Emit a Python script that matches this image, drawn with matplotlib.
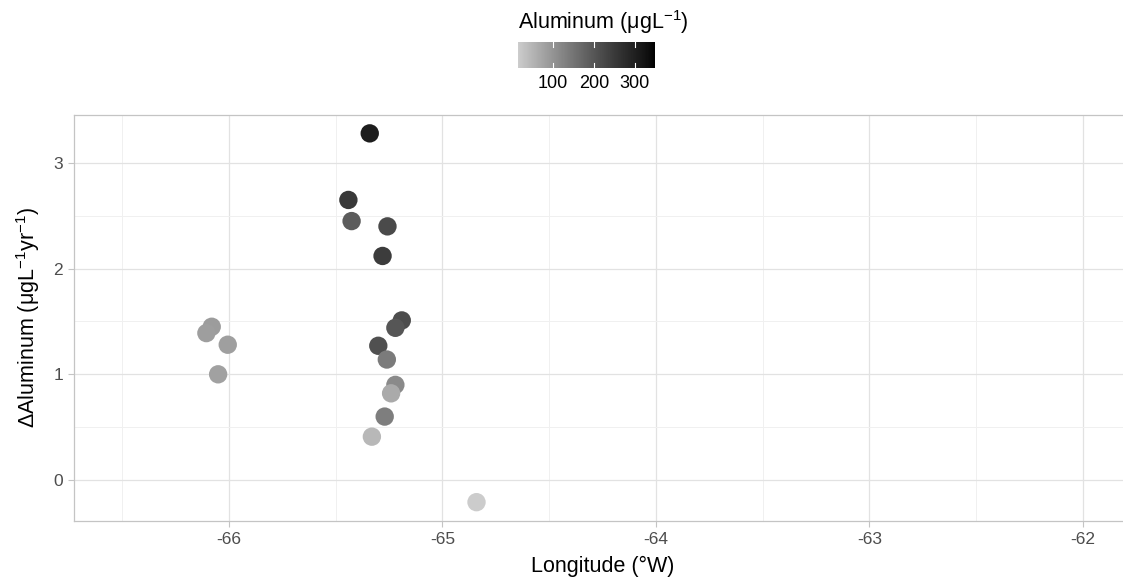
import matplotlib
matplotlib.use("Agg")
import matplotlib.pyplot as plt
import numpy as np
from matplotlib.colors import LinearSegmentedColormap, Normalize

plt.rcParams['font.family'] = ['Liberation Sans', 'DejaVu Sans']
plt.rcParams['mathtext.fontset'] = 'custom'
plt.rcParams['mathtext.rm'] = 'Liberation Sans'
plt.rcParams['mathtext.it'] = 'Liberation Sans:italic'

# sites: longitude, trend and mean concentration
longitude = [-65.34, -65.44, -65.425, -65.257, -65.28, -65.19, -65.22, -65.30,
             -65.26, -65.22, -65.24, -65.27, -65.33, -64.84,
             -66.08, -66.105, -66.005, -66.05]
delta_al = [3.28, 2.65, 2.45, 2.40, 2.12, 1.51, 1.44, 1.27,
            1.14, 0.90, 0.82, 0.60, 0.41, -0.21,
            1.45, 1.39, 1.28, 1.00]
aluminum = [305, 250, 190, 220, 245, 215, 200, 210,
            140, 115, 65, 135, 45, 15,
            88, 85, 82, 80]
al_min, al_max = 15, 349


def grey_lab_ramp(l_start, l_end, n=256):
    # grey ramp interpolated linearly in CIE L*, converted to sRGB
    L = np.linspace(l_start, l_end, n)
    fy = (L + 16) / 116
    Y = np.where(L > 8, fy ** 3, L / 903.3)
    srgb = np.where(Y <= 0.0031308, 12.92 * Y, 1.055 * Y ** (1 / 2.4) - 0.055)
    srgb = np.clip(srgb, 0, 1)
    return [(v, v, v) for v in srgb]


cmap = LinearSegmentedColormap.from_list('greys', grey_lab_ramp(82, 0))
norm = Normalize(vmin=al_min, vmax=al_max)

fig = plt.figure(figsize=(11.23, 5.79), dpi=100)
ax = fig.add_axes([0.0659, 0.1002, 0.9412, 0.7012])

ax.set_xlim(-66.725, -61.775)
ax.set_ylim(-0.388, 3.454)

# light theme grid
ax.set_xticks([-66, -65, -64, -63, -62])
ax.set_yticks([0, 1, 2, 3])
ax.set_xticks(np.arange(-66.5, -61.9, 1.0), minor=True)
ax.set_yticks([0.5, 1.5, 2.5], minor=True)
ax.grid(which='major', color='#e2e2e2', linewidth=0.9)
ax.grid(which='minor', color='#f0f0f0', linewidth=0.7)
ax.set_axisbelow(True)
for sp in ax.spines.values():
    sp.set_color('#c4c4c4')
    sp.set_linewidth(0.9)
ax.tick_params(which='major', length=4, color='#c4c4c4', labelcolor='#4d4d4d',
               labelsize=12.5, pad=4)
ax.tick_params(which='minor', length=0)
ax.set_xticklabels(['-66', '-65', '-64', '-63', '-62'])
ax.set_yticklabels(['0', '1', '2', '3'])

sc = ax.scatter(longitude, delta_al, c=aluminum, cmap=cmap, norm=norm,
                s=175, linewidths=0, zorder=3)

ax.set_xlabel('Longitude (°W)', fontsize=15.5, labelpad=6)
ax.set_ylabel(r'ΔAluminum (μgL$^{-1}$yr$^{-1}$)', fontsize=15.5, labelpad=8)

# colourbar legend above the panel
cax = fig.add_axes([0.4613, 0.8826, 0.122, 0.0449])
cb = fig.colorbar(sc, cax=cax, orientation='horizontal')
cb.outline.set_visible(False)
cb.set_ticks([100, 200, 300])
cax.tick_params(length=0, labelsize=13, labelcolor='black', pad=5)
for v in [100, 200, 300]:
    cax.plot([v, v], [0, 0.2], color='white', lw=0.8, transform=cax.get_xaxis_transform())
    cax.plot([v, v], [0.8, 1], color='white', lw=0.8, transform=cax.get_xaxis_transform())
fig.text(0.4613, 0.962, r'Aluminum (μgL$^{-1}$)', ha='left', va='center', fontsize=15.5)

fig.savefig('out.png', dpi=100)
